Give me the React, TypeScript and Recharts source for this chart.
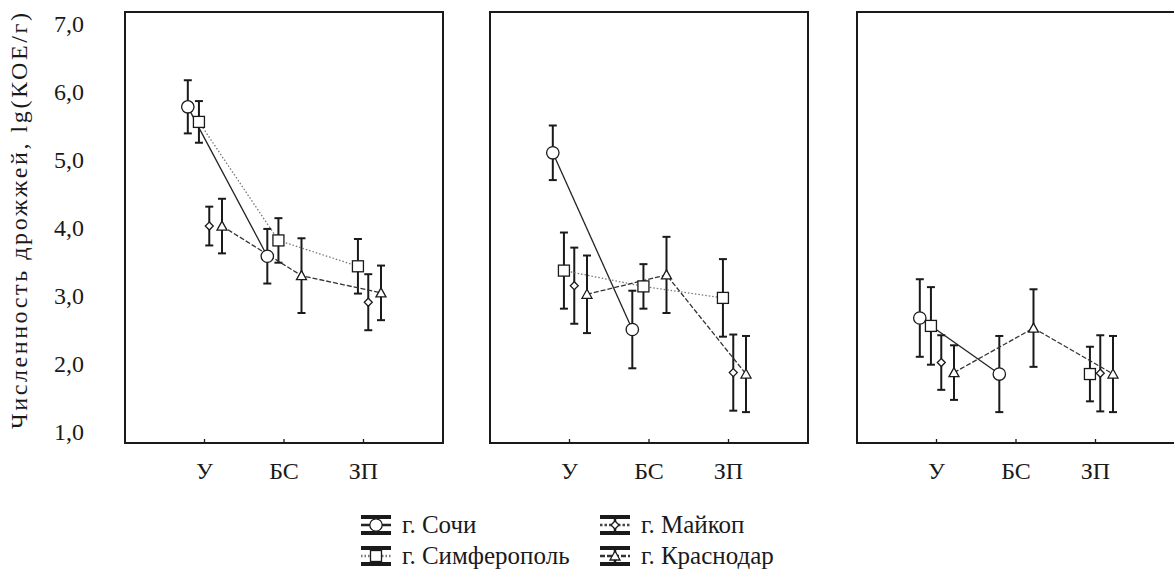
import React from 'react';
import { ScatterChart, Scatter, XAxis, YAxis, ErrorBar, ReferenceArea } from 'recharts';

const categories = ['У', 'БС', 'ЗП'];
const cityNames = ['г. Сочи', 'г. Симферополь', 'г. Майкоп', 'г. Краснодар'];
const yLabelValues = [1, 2, 3, 4, 5, 6, 7];
const yTickValues = [1, 1.5, 2, 2.5, 3, 3.5, 4, 4.5, 5, 5.5, 6, 6.5, 7];

// means and half-widths of error bars, [panel][category]
const sochiMean = [[5.68, 3.6, null], [5.04, 2.58, null], [2.74, 1.96, null]];
const sochiErr = [[0.37, 0.38, null], [0.38, 0.54, null], [0.54, 0.53, null]];
const simferopolMean = [[5.47, 3.82, 3.46], [3.4, 3.18, 3.02], [2.63, null, 1.96]];
const simferopolErr = [[0.29, 0.31, 0.38], [0.53, 0.31, 0.54], [0.54, null, 0.38]];
const maykopMean = [[4.02, null, 2.96], [3.19, null, 1.98], [2.12, null, 1.97]];
const maykopErr = [[0.27, null, 0.39], [0.53, null, 0.53], [0.38, null, 0.53]];
const krasnodarMean = [[4.02, 3.33, 3.09], [3.07, 3.34, 1.96], [1.98, 2.6, 1.96]];
const krasnodarErr = [[0.38, 0.52, 0.38], [0.54, 0.53, 0.53], [0.38, 0.54, 0.53]];

type MarkerKind = 'circle' | 'square' | 'diamond' | 'triangle';

const series = [
  { name: cityNames[0], mean: sochiMean, err: sochiErr, shift: -0.21, marker: 'circle' as MarkerKind, stroke: '#222', dash: undefined as string | undefined },
  { name: cityNames[1], mean: simferopolMean, err: simferopolErr, shift: -0.07, marker: 'square' as MarkerKind, stroke: '#777', dash: '1.5 2' },
  { name: cityNames[2], mean: maykopMean, err: maykopErr, shift: 0.06, marker: 'diamond' as MarkerKind, stroke: '#444', dash: '2.5 2' },
  { name: cityNames[3], mean: krasnodarMean, err: krasnodarErr, shift: 0.22, marker: 'triangle' as MarkerKind, stroke: '#333', dash: '5 2' },
];

const FONT = 'Liberation Serif, Times New Roman, serif';
const INK = '#1a1a1a';
const PLOT_W = 318;
const PLOT_TOP = 12;
const PLOT_BOTTOM = 443;
const CHART_H = 572;
const LABEL_AXIS_W = 124;

function Marker({ kind, cx, cy }: { kind: MarkerKind; cx: number; cy: number }) {
  const common = { fill: '#fff', stroke: INK, strokeWidth: 1.3 };
  if (kind === 'circle') return <circle cx={cx} cy={cy} r={6.2} {...common} />;
  if (kind === 'square') return <rect x={cx - 5.5} y={cy - 5.5} width={11} height={11} {...common} />;
  if (kind === 'diamond')
    return <polygon points={`${cx},${cy - 4} ${cx + 4},${cy} ${cx},${cy + 4} ${cx - 4},${cy}`} {...common} />;
  return <polygon points={`${cx},${cy - 5} ${cx + 5},${cy + 4} ${cx - 5},${cy + 4}`} {...common} />;
}

function runsOf(values: (number | null)[], errs: (number | null)[], shift: number) {
  const runs: { x: number; y: number; err: number }[][] = [];
  let cur: { x: number; y: number; err: number }[] = [];
  values.forEach((v, i) => {
    if (v == null) {
      if (cur.length) runs.push(cur);
      cur = [];
    } else {
      cur.push({ x: i + 1 + shift, y: v, err: errs[i] ?? 0 });
    }
  });
  if (cur.length) runs.push(cur);
  return runs;
}

const fmt = (v: number) => v.toFixed(1).replace('.', ',');

function Panel({ panel, withLabels }: { panel: number; withLabels: boolean }) {
  const leftW = withLabels ? LABEL_AXIS_W : 0;
  return (
    <ScatterChart
      width={leftW + 1 + PLOT_W + 1 + 2}
      height={CHART_H}
      margin={{ top: PLOT_TOP, right: 2, bottom: 0, left: 0 }}
    >
      <XAxis
        xAxisId="b"
        dataKey="x"
        type="number"
        domain={[0, 4]}
        ticks={[1, 2, 3]}
        allowDataOverflow
        height={CHART_H - PLOT_BOTTOM}
        tickSize={-4}
        axisLine={{ stroke: INK, strokeWidth: 2 }}
        tickLine={{ stroke: INK, strokeWidth: 1.3 }}
        tick={(p: any) => (
          <text x={p.x} y={p.y + 38} textAnchor="middle" fontFamily={FONT} fontSize={24} fill={INK}>
            {categories[Math.round(p.payload.value) - 1]}
          </text>
        )}
      />
      <YAxis
        yAxisId="a"
        dataKey="y"
        type="number"
        domain={[1, 7]}
        ticks={yTickValues}
        allowDataOverflow
        width={1}
        tickSize={-4}
        tick={false}
        tickLine={{ stroke: INK, strokeWidth: 1.3 }}
        axisLine={{ stroke: INK, strokeWidth: 2 }}
      />
      {withLabels && (
        <YAxis
          yAxisId="b"
          dataKey="y"
          type="number"
          domain={[0.838, 7.176]}
          ticks={yLabelValues}
          allowDataOverflow
          width={LABEL_AXIS_W}
          axisLine={false}
          tickLine={false}
          tick={(p: any) => (
            <text x={84} y={p.y + 8} textAnchor="end" fontFamily={FONT} fontSize={24} fill={INK}>
              {fmt(p.payload.value)}
            </text>
          )}
          label={{
            content: () => (
              <text
                x={19}
                y={221}
                transform="rotate(-90 19 221)"
                textAnchor="middle"
                dominantBaseline="central"
                fontFamily={FONT}
                fontSize={24}
                fill={INK}
                textLength={416}
                lengthAdjust="spacing"
              >
                Численность дрожжей, lg(КОЕ/г)
              </text>
            ),
          }}
        />
      )}
      <YAxis
        yAxisId="r"
        orientation="right"
        dataKey="y"
        type="number"
        domain={[1, 7]}
        ticks={yTickValues}
        allowDataOverflow
        width={1}
        tickSize={-4}
        tick={false}
        tickLine={{ stroke: INK, strokeWidth: 1.3 }}
        axisLine={{ stroke: INK, strokeWidth: 2 }}
      />
      <ReferenceArea
        xAxisId="b"
        yAxisId="a"
        x1={0}
        x2={4}
        y1={1}
        y2={7}
        fill="none"
        stroke={INK}
        strokeWidth={2}
        ifOverflow="visible"
      />
      {/* connecting lines first */}
      {series.map((s, si) =>
        runsOf(s.mean[panel], s.err[panel], s.shift)
          .filter((r) => r.length > 1)
          .map((run, ri) => (
            <Scatter
              key={`l-${si}-${ri}`}
              xAxisId="b"
              yAxisId="a"
              data={run}
              line={{ stroke: s.stroke, strokeWidth: 1.3, strokeDasharray: s.dash }}
              shape={() => <g />}
              isAnimationActive={false}
            />
          ))
      )}
      {/* markers with error bars */}
      {series.map((s, si) =>
        runsOf(s.mean[panel], s.err[panel], s.shift).map((run, ri) => (
          <Scatter
            key={`m-${si}-${ri}`}
            name={s.name}
            xAxisId="b"
            yAxisId="a"
            data={run}
            shape={(p: any) => <Marker kind={s.marker} cx={p.cx} cy={p.cy} />}
            isAnimationActive={false}
          >
            <ErrorBar dataKey="err" direction="y" width={4} strokeWidth={2} stroke={INK} />
          </Scatter>
        ))
      )}
    </ScatterChart>
  );
}

function LegendIcon({ kind, stroke, dash }: { kind: MarkerKind; stroke: string; dash?: string }) {
  return (
    <svg width={32} height={22} style={{ display: 'block' }}>
      <rect x={1} y={1} width={30} height={4} fill={INK} />
      <rect x={1} y={17} width={30} height={4} fill={INK} />
      <line x1={16} y1={4} x2={16} y2={18} stroke={INK} strokeWidth={2.5} />
      <line x1={1} y1={11} x2={31} y2={11} stroke={stroke} strokeWidth={2.5} strokeDasharray={dash} />
      <Marker kind={kind} cx={16} cy={11} />
    </svg>
  );
}

export default function App() {
  const legendPos = [
    { left: 360, top: 514 },
    { left: 360, top: 545 },
    { left: 599, top: 514 },
    { left: 599, top: 545 },
  ];
  return (
    <div style={{ position: 'fixed', left: 0, top: 0, width: 1174, height: 572, overflow: 'hidden', background: '#fff' }}>
      <div style={{ position: 'absolute', left: 0, top: 0 }}>
        <Panel panel={0} withLabels />
      </div>
      <div style={{ position: 'absolute', left: 489, top: 0 }}>
        <Panel panel={1} withLabels={false} />
      </div>
      <div style={{ position: 'absolute', left: 856, top: 0 }}>
        <Panel panel={2} withLabels={false} />
      </div>
      {series.map((s, i) => (
        <div
          key={s.name}
          style={{
            position: 'absolute',
            left: legendPos[i].left,
            top: legendPos[i].top,
            display: 'flex',
            alignItems: 'center',
            gap: 10,
            fontFamily: FONT,
            fontSize: 25,
            color: INK,
            lineHeight: '22px',
            whiteSpace: 'nowrap',
          }}
        >
          <LegendIcon kind={s.marker} stroke={s.stroke} dash={s.dash} />
          <span>{s.name}</span>
        </div>
      ))}
    </div>
  );
}
